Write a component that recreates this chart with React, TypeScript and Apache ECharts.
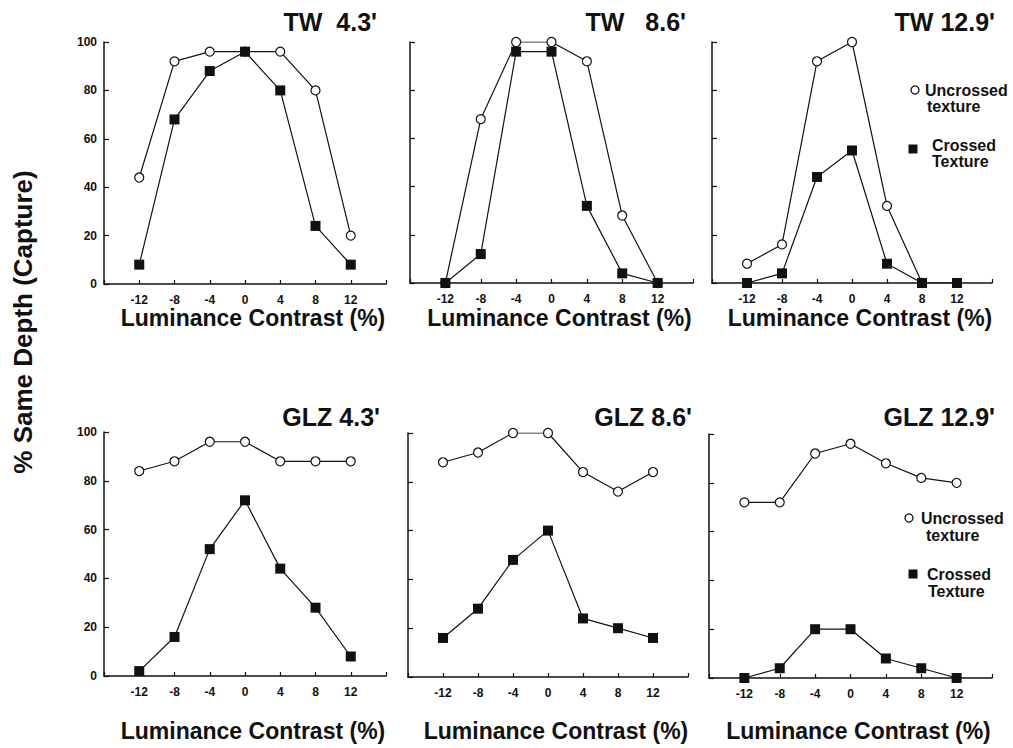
import React, { useEffect, useRef } from "react";
import * as echarts from "echarts";

const contrasts = [-12, -8, -4, 0, 4, 8, 12];
const xTickLabels = ["-12", "-8", "-4", "0", "4", "8", "12"];
const yTickLabels = ["0", "20", "40", "60", "80", "100"];

const panelTitles = ["TW  4.3'", "TW   8.6'", "TW 12.9'", "GLZ 4.3'", "GLZ 8.6'", "GLZ 12.9'"];

const tw43Uncrossed = [44, 92, 96, 96, 96, 80, 20];
const tw43Crossed = [8, 68, 88, 96, 80, 24, 8];
const tw86Uncrossed = [0, 68, 100, 100, 92, 28, 0];
const tw86Crossed = [0, 12, 96, 96, 32, 4, 0];
const tw129Uncrossed = [8, 16, 92, 100, 32, 0, null];
const tw129Crossed = [0, 4, 44, 55, 8, 0, 0];
const glz43Uncrossed = [84, 88, 96, 96, 88, 88, 88];
const glz43Crossed = [2, 16, 52, 72, 44, 28, 8];
const glz86Uncrossed = [88, 92, 100, 100, 84, 76, 84];
const glz86Crossed = [16, 28, 48, 60, 24, 20, 16];
const glz129Uncrossed = [72, 72, 92, 96, 88, 82, 80];
const glz129Crossed = [0, 4, 20, 20, 8, 4, 0];

const uncrossedSets = [tw43Uncrossed, tw86Uncrossed, tw129Uncrossed, glz43Uncrossed, glz86Uncrossed, glz129Uncrossed];
const crossedSets = [tw43Crossed, tw86Crossed, tw129Crossed, glz43Crossed, glz86Crossed, glz129Crossed];

const legendLabels = ["Uncrossed", "texture", "Crossed", "Texture"];
const xAxisTitle = "Luminance Contrast (%)";
const yAxisTitle = "% Same Depth (Capture)";

const FONT = "'Liberation Sans', Arial, Helvetica, sans-serif";

const grids = [
  { left: 104, top: 42, width: 282, height: 242 },
  { left: 410, top: 42, width: 283, height: 241 },
  { left: 712, top: 42, width: 280, height: 241 },
  { left: 104, top: 432, width: 282, height: 244 },
  { left: 408, top: 433, width: 280, height: 244 },
  { left: 709, top: 434, width: 283, height: 244 },
];
const titlePos = [
  [377, 22], [686, 22], [995, 22],
  [380, 417], [692, 417], [995, 417],
];

export default function App() {
  const ref = useRef<HTMLDivElement>(null);
  useEffect(() => {
    if (!ref.current) return;
    const chart = echarts.init(ref.current, null, { renderer: "svg" });
    const xAxes: any[] = [];
    const yAxes: any[] = [];
    const series: any[] = [];
    const graphics: any[] = [];
    grids.forEach((g, i) => {
      xAxes.push({
        type: "value",
        gridIndex: i,
        min: -16,
        max: 16,
        interval: 4,
        axisLine: { onZero: false, lineStyle: { color: "#111", width: 1.5 } },
        axisTick: { inside: true, length: 4, lineStyle: { color: "#111", width: 1.2 } },
        splitLine: { show: false },
        axisLabel: {
          margin: 10,
          color: "#111",
          fontFamily: FONT,
          fontWeight: "bold",
          fontSize: 12,
          formatter: (v: number) => {
            const idx = contrasts.indexOf(v);
            return idx >= 0 ? xTickLabels[idx] : "";
          },
        },
      });
      yAxes.push({
        type: "value",
        gridIndex: i,
        min: 0,
        max: 100,
        interval: 20,
        axisLine: { show: true, onZero: false, lineStyle: { color: "#111", width: 1.5 } },
        axisTick: { show: true, inside: true, length: 5, lineStyle: { color: "#111", width: 1.2 } },
        splitLine: { show: false },
        axisLabel: {
          show: i % 3 === 0,
          margin: 7,
          color: "#111",
          fontFamily: FONT,
          fontWeight: "bold",
          fontSize: 12,
          formatter: (v: number) => yTickLabels[Math.round(v / 20)] ?? "",
        },
      });
      series.push({
        type: "line",
        xAxisIndex: i,
        yAxisIndex: i,
        data: contrasts.map((c, k) => [c, uncrossedSets[i][k]]).filter((p) => p[1] !== null),
        symbol: "circle",
        symbolSize: 9,
        lineStyle: { color: "#111", width: 1.2 },
        itemStyle: { color: "#fff", borderColor: "#111", borderWidth: 1.2 },
        z: 3,
      });
      series.push({
        type: "line",
        xAxisIndex: i,
        yAxisIndex: i,
        data: contrasts.map((c, k) => [c, crossedSets[i][k]]),
        symbol: "rect",
        symbolSize: 10,
        lineStyle: { color: "#111", width: 1.2 },
        itemStyle: { color: "#111", borderWidth: 0 },
        z: 4,
      });
      graphics.push({
        type: "text",
        x: titlePos[i][0],
        y: titlePos[i][1],
        style: {
          text: panelTitles[i],
          font: `bold 25px ${FONT}`,
          fill: "#111",
          align: "right",
          verticalAlign: "middle",
          textAlign: "right",
          textVerticalAlign: "middle",
        },
      });
      graphics.push({
        type: "text",
        x: g.left + g.width / 2 + 8,
        y: i < 3 ? 318 : 731,
        style: {
          text: xAxisTitle,
          font: `bold 23px ${FONT}`,
          fill: "#111",
          align: "center",
          verticalAlign: "middle",
          textAlign: "center",
          textVerticalAlign: "middle",
        },
      });
    });
    graphics.push({
      type: "text",
      x: 23,
      y: 322,
      rotation: Math.PI / 2,
      style: {
        text: yAxisTitle,
        font: `bold 26px ${FONT}`,
        fill: "#111",
        align: "center",
        verticalAlign: "middle",
        textAlign: "center",
        textVerticalAlign: "middle",
      },
    });
    const legends = [
      { cx: 915, cy: 90, sx: 913, sy: 149, tx1: 925, tx2: 927, tx3: 932, tx4: 932, y1: 90, y2: 106, y3: 145, y4: 161 },
      { cx: 909, cy: 518, sx: 913, sy: 574, tx1: 921, tx2: 926, tx3: 927, tx4: 928, y1: 518, y2: 535, y3: 574, y4: 591 },
    ];
    legends.forEach((L) => {
      graphics.push({ type: "circle", shape: { cx: L.cx, cy: L.cy, r: 4 }, style: { fill: "#fff", stroke: "#111", lineWidth: 1.3 } });
      graphics.push({ type: "rect", shape: { x: L.sx - 4.5, y: L.sy - 4.5, width: 9, height: 9 }, style: { fill: "#111" } });
      const items = [
        [legendLabels[0], L.tx1, L.y1],
        [legendLabels[1], L.tx2, L.y2],
        [legendLabels[2], L.tx3, L.y3],
        [legendLabels[3], L.tx4, L.y4],
      ];
      items.forEach(([t, x, y]) => {
        graphics.push({
          type: "text",
          x,
          y,
          style: {
            text: t,
            font: `bold 16px ${FONT}`,
            fill: "#111",
            align: "left",
            verticalAlign: "middle",
            textAlign: "left",
            textVerticalAlign: "middle",
          },
        });
      });
    });
    chart.setOption({
      animation: false,
      backgroundColor: "#fff",
      grid: grids.map((g) => ({ ...g, containLabel: false })),
      xAxis: xAxes,
      yAxis: yAxes,
      series,
      graphic: graphics,
    });
    return () => chart.dispose();
  }, []);
  return (
    <div
      ref={ref}
      style={{ position: "fixed", left: 0, top: 0, width: 1013, height: 748, background: "#fff" }}
    />
  );
}
